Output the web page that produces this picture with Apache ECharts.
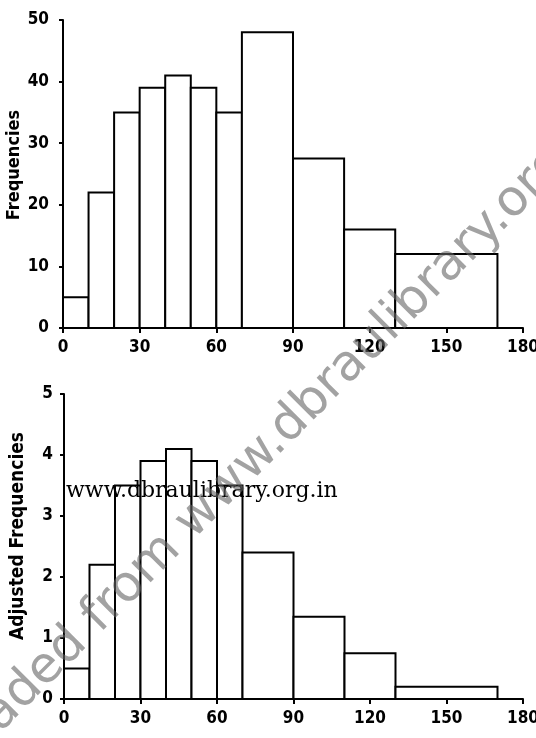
<!DOCTYPE html>
<html>
<head>
<meta charset="utf-8">
<script src="https://cdn.jsdelivr.net/npm/echarts@6/dist/echarts.min.js"></script>
<style>
  html, body { margin: 0; padding: 0; background: #fff; }
  #chart { width: 536px; height: 738px; }
</style>
</head>
<body>
<div id="chart"></div>
<script>
// Class intervals (unequal widths)
const classStart = [0, 10, 20, 30, 40, 50, 60, 70, 90, 110, 130];
const classEnd   = [10, 20, 30, 40, 50, 60, 70, 90, 110, 130, 170];
// Raw frequencies per class
const frequencies = [5, 22, 35, 39, 41, 39, 35, 48, 27.5, 16, 12];
// Frequencies adjusted for class width
const adjustedFrequencies = [0.5, 2.2, 3.5, 3.9, 4.1, 3.9, 3.5, 2.4, 1.35, 0.75, 0.2];

const freqTitle = 'Frequencies';
const adjTitle = 'Adjusted Frequencies';
const siteText = 'www.dbraulibrary.org.in';
const stampText = 'Downloaded from www.dbraulibrary.org.in';

const tickFont = "'Liberation Sans Narrow', 'DejaVu Sans Condensed', sans-serif";

function rows(values) {
  return classStart.map((s, i) => [s, classEnd[i], values[i]]);
}

function renderBar(params, api) {
  const p0 = api.coord([api.value(0), 0]);
  const p1 = api.coord([api.value(1), api.value(2)]);
  return {
    type: 'rect',
    shape: { x: p0[0], y: p1[1], width: p1[0] - p0[0], height: p0[1] - p1[1] },
    style: { fill: '#fff', stroke: '#000', lineWidth: 2 }
  };
}

function xAxisCfg(gridIndex) {
  return {
    type: 'value', gridIndex, min: 0, max: 180, interval: 30,
    axisLine: { show: true, lineStyle: { color: '#000', width: 2 } },
    axisTick: { show: true, length: 5, lineStyle: { color: '#000', width: 2 } },
    splitLine: { show: false },
    axisLabel: { color: '#000', fontFamily: tickFont, fontWeight: 'bold', fontSize: 17, margin: 11 }
  };
}

function yAxisCfg(gridIndex, max, interval, labelMargin) {
  return {
    type: 'value', gridIndex, min: 0, max, interval,
    axisLine: { show: true, lineStyle: { color: '#000', width: 2 } },
    axisTick: { show: true, length: 4, lineStyle: { color: '#000', width: 2 } },
    splitLine: { show: false },
    axisLabel: { color: '#000', fontFamily: tickFont, fontWeight: 'bold', fontSize: 17, margin: labelMargin }
  };
}

function axisTitle(text, x, y, size) {
  return {
    type: 'text', x, y, rotation: Math.PI / 2, z: 40,
    style: {
      text, fill: '#000', align: 'center', verticalAlign: 'middle',
      font: 'bold ' + size + 'px ' + tickFont
    }
  };
}

// Diagonal stamp: place so the dot after "www" lands at a fixed point
const stampSize = 50;
const stampFont = stampSize + "px 'DejaVu Sans', sans-serif";
const stampAngle = 45 * Math.PI / 180;
const dir = [Math.cos(stampAngle), -Math.sin(stampAngle)];
const up = [-Math.sin(stampAngle), -Math.cos(stampAngle)];
const ctx = document.createElement('canvas').getContext('2d');
ctx.font = stampFont;
const leadW = ctx.measureText('Downloaded from www').width;
const dotW = ctx.measureText('.').width;
const dotCenter = [287, 449];
const mid = 0.3 * stampSize;
const stampX = dotCenter[0] - (leadW + dotW / 2) * dir[0] + mid * up[0];
const stampY = dotCenter[1] - (leadW + dotW / 2) * dir[1] + mid * up[1];

const chart = echarts.init(document.getElementById('chart'), null, { renderer: 'canvas' });
chart.setOption({
  animation: false,
  backgroundColor: '#fff',
  grid: [
    { left: 63, right: 13, top: 20, height: 308, containLabel: false, outerBoundsMode: 'none' },
    { left: 64, right: 13, top: 394, height: 305, containLabel: false, outerBoundsMode: 'none' }
  ],
  xAxis: [xAxisCfg(0), xAxisCfg(1)],
  yAxis: [yAxisCfg(0, 50, 10, 14), yAxisCfg(1, 5, 1, 11)],
  series: [
    {
      type: 'custom', xAxisIndex: 0, yAxisIndex: 0,
      renderItem: renderBar, encode: { x: [0, 1], y: 2 },
      data: rows(frequencies)
    },
    {
      type: 'custom', xAxisIndex: 1, yAxisIndex: 1,
      renderItem: renderBar, encode: { x: [0, 1], y: 2 },
      data: rows(adjustedFrequencies)
    }
  ],
  graphic: [
    axisTitle(freqTitle, 14, 165, 18),
    axisTitle(adjTitle, 18, 536, 19),
    {
      type: 'text', left: 66, top: 480, z: 50,
      style: { text: siteText, fill: '#000', font: "22px 'DejaVu Serif', serif" }
    },
    {
      type: 'text', x: stampX, y: stampY, rotation: stampAngle, z: 60,
      style: {
        text: stampText, fill: 'rgba(100,100,100,0.6)',
        font: stampFont, align: 'left', verticalAlign: 'middle'
      }
    }
  ]
});
</script>
</body>
</html>
